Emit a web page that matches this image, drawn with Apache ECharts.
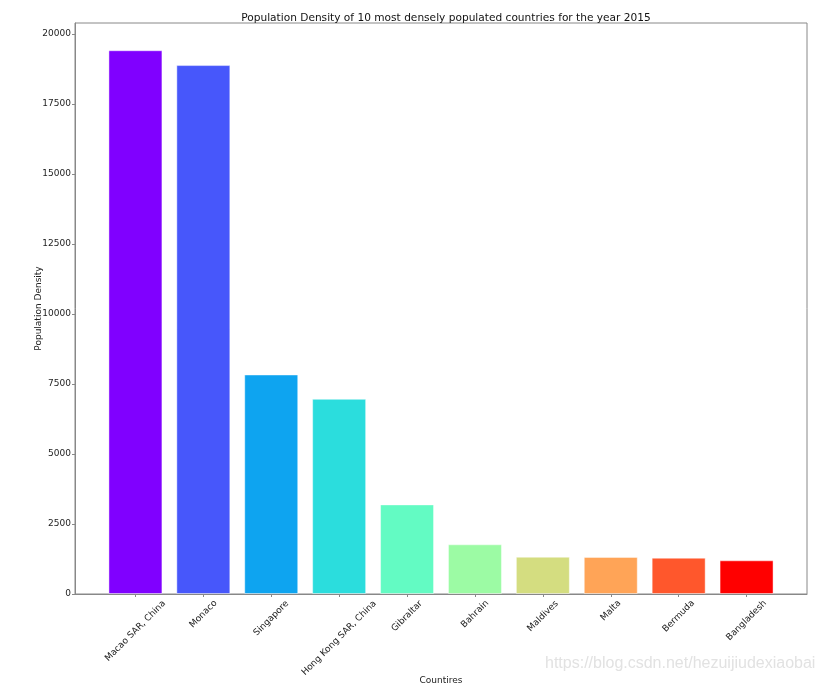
<!DOCTYPE html>
<html>
<head>
<meta charset="utf-8">
<script src="https://cdn.jsdelivr.net/npm/echarts@6/dist/echarts.min.js"></script>
<style>html,body{margin:0;padding:0;background:#fff;}#c{width:823px;height:685px;}</style>
</head>
<body>
<div id="c"></div>
<script>
const countries = ["Macao SAR, China","Monaco","Singapore","Hong Kong SAR, China","Gibraltar","Bahrain","Maldives","Malta","Bermuda","Bangladesh"];
const density = [19420, 18890, 7840, 6970, 3200, 1775, 1333, 1325, 1297, 1203];
const barColors = ["#8000ff","#4757fb","#0ea4f0","#2bdddd","#63fbc3","#9cfba4","#d4dd80","#ffa457","#ff572c","#ff0000"];
const yTicks = [0, 2500, 5000, 7500, 10000, 12500, 15000, 17500, 20000];
const xTicks = [0,1,2,3,4,5,6,7,8,9];

const font = 'DejaVu Sans';
const labelSize = 9;
const axisCol = '#888';

// matplotlib-like centered rotated labels: shift each label based on its measured width
const ctx = document.createElement('canvas').getContext('2d');
ctx.font = labelSize + 'px "' + font + '"';
const rich = {};
countries.forEach((c, i) => {
  const L = ctx.measureText(c).width;
  const p = Math.round(L * 0.5);
  rich['l' + i] = {fontSize: labelSize, fontFamily: font, color: '#222', padding: [p, p, 0, 0]};
});

const chart = echarts.init(document.getElementById('c'), null, {renderer:'canvas'});
chart.setOption({
  animation:false,
  textStyle:{fontFamily:font},
  title:{text:'Population Density of 10 most densely populated countries for the year 2015',
    left:441, top:8, textAlign:'center',
    textStyle:{fontFamily:font,fontSize:10.6,fontWeight:'normal',color:'#111'}},
  grid:{left:75, top:23, width:732, height:571, show:true, borderColor:axisCol, borderWidth:1,
    outerBoundsMode:'none', containLabel:false},
  xAxis:{type:'value', min:-0.89, max:9.89,
    name:'Countires', nameLocation:'middle', nameGap:82, nameMoveOverlap:false,
    nameTextStyle:{fontFamily:font,fontSize:labelSize,color:'#222'},
    splitLine:{show:false},
    axisLine:{show:true,onZero:false,lineStyle:{color:axisCol}},
    axisTick:{show:true,length:3,customValues:xTicks,lineStyle:{color:axisCol}},
    axisLabel:{customValues:xTicks, rotate:45, margin:8, align:'center', verticalAlign:'middle',
      fontSize:labelSize, color:'#222', fontFamily:font, rich:rich,
      formatter:(v)=>{const i=Math.round(v); return '{l'+i+'|'+countries[i]+'}';}}},
  yAxis:{type:'value', min:0, max:20393,
    name:'Population Density', nameLocation:'middle', nameGap:32, nameRotate:90, nameMoveOverlap:false,
    nameTextStyle:{fontFamily:font,fontSize:labelSize,color:'#222'},
    splitLine:{show:false},
    axisLine:{show:true,onZero:false,lineStyle:{color:axisCol}},
    axisTick:{show:true,length:3,customValues:yTicks,lineStyle:{color:axisCol}},
    axisLabel:{customValues:yTicks, margin:4, fontSize:labelSize, color:'#222', fontFamily:font,
      formatter:(v)=>String(v)}},
  series:[{type:'bar', barWidth:54,
    data: density.map((v,i)=>({value:[i,v], itemStyle:{color:barColors[i], borderColor:'rgba(255,255,255,0.45)', borderWidth:1}}))}],
  graphic:[{type:'text', left:545, top:656, style:{text:'https://blog.csdn.net/hezuijiudexiaobai', fill:'#e2e2e2', font:'16px "Liberation Sans", Arial, sans-serif'}}]
});
</script>
</body>
</html>
